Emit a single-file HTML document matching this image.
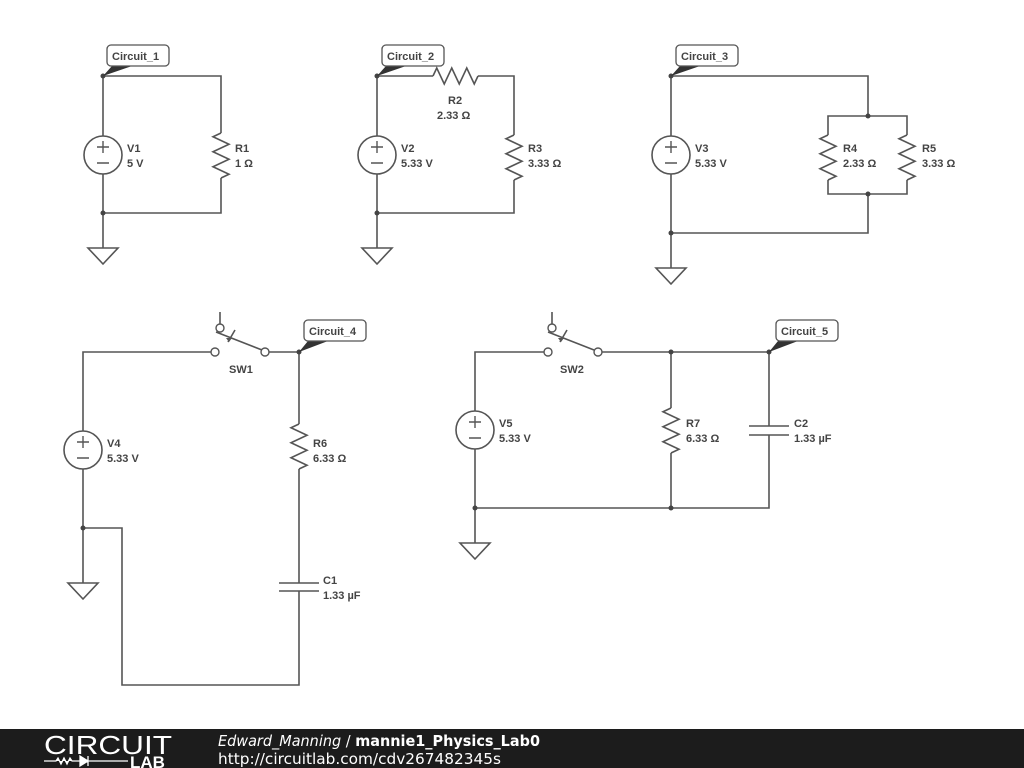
<!DOCTYPE html>
<html><head><meta charset="utf-8"><style>
html,body{margin:0;padding:0;background:#fff;}
svg{display:block;}
text{font-family:"Liberation Sans",sans-serif;font-size:11px;font-weight:bold;fill:#444;}
.w{stroke:#555;stroke-width:1.6;fill:none;}
</style></head><body>
<svg width="1024" height="768" viewBox="0 0 1024 768" xmlns="http://www.w3.org/2000/svg">
<defs>
<g id="src"><circle cx="0" cy="0" r="19" fill="#fff" stroke="#555" stroke-width="1.6"/><path d="M-6 -8 h12 M0 -14 v12 M-6 8 h12" stroke="#555" stroke-width="1.4"/></g>
<g id="gnd"><path d="M-15 0 h30 l-15 16 z" fill="#fff" stroke="#555" stroke-width="1.6"/></g>
</defs>
<g class="w">
<path d="M103 136 V76 H221 V133 M221 178 V213 H103 V174 M103 213 V248"/>
<path d="M221 133 l-8 3.75 l16 7.5 l-16 7.5 l16 7.5 l-16 7.5 l16 7.5 l-8 3.75"/>
<path d="M377 136 V76 H433 M478 76 H514 V135 M514 180 V213 H377 V174 M377 213 V248"/>
<path d="M433 76 l3.75 -8 l7.5 16 l7.5 -16 l7.5 16 l7.5 -16 l7.5 16 l3.75 -8"/>
<path d="M514 135 l-8 3.75 l16 7.5 l-16 7.5 l16 7.5 l-16 7.5 l16 7.5 l-8 3.75"/>
<path d="M671 136 V76 H868 V116 M828 135 V116 H907 V135 M828 180 V194 H907 V180 M868 194 V233 H671 V174 M671 233 V268"/>
<path d="M828 135 l-8 3.75 l16 7.5 l-16 7.5 l16 7.5 l-16 7.5 l16 7.5 l-8 3.75"/>
<path d="M907 135 l-8 3.75 l16 7.5 l-16 7.5 l16 7.5 l-16 7.5 l16 7.5 l-8 3.75"/>
<path d="M83 431 V352 H211 M269 352 H299 V424 M299 469 V583 M299 591 V685 H122 V528 H83 V469 M83 528 V583"/>
<path d="M299 424 l-8 3.75 l16 7.5 l-16 7.5 l16 7.5 l-16 7.5 l16 7.5 l-8 3.75"/>
<path d="M279 583 H319 M279 591 H319"/>
<path d="M220 312 V324 M216 332 L262 350 M235 330 L228 342"/>
<path d="M475 411 V352 H544 M602 352 H769 V426 M769 435 V508 H475 V449 M671 352 V408 M671 453 V508 M475 508 V543"/>
<path d="M671 408 l-8 3.75 l16 7.5 l-16 7.5 l16 7.5 l-16 7.5 l16 7.5 l-8 3.75"/>
<path d="M749 426 H789 M749 435 H789"/>
<path d="M552 312 V324 M548 332 L594 350 M567 330 L560 342"/>
</g>
<g fill="#fff" stroke="#555" stroke-width="1.4">
<circle cx="215" cy="352" r="4"/><circle cx="265" cy="352" r="4"/><circle cx="220" cy="328" r="4"/>
<circle cx="548" cy="352" r="4"/><circle cx="598" cy="352" r="4"/><circle cx="552" cy="328" r="4"/>
</g>
<path d="M229 342 l-3 -4 h6 z M561 342 l-3 -4 h6 z" fill="#555"/>
<g fill="#444">
<circle cx="103" cy="76" r="2.5"/><circle cx="103" cy="213" r="2.5"/>
<circle cx="377" cy="76" r="2.5"/><circle cx="377" cy="213" r="2.5"/>
<circle cx="671" cy="76" r="2.5"/><circle cx="868" cy="116" r="2.5"/><circle cx="868" cy="194" r="2.5"/><circle cx="671" cy="233" r="2.5"/>
<circle cx="299" cy="352" r="2.5"/><circle cx="83" cy="528" r="2.5"/>
<circle cx="671" cy="352" r="2.5"/><circle cx="769" cy="352" r="2.5"/><circle cx="475" cy="508" r="2.5"/><circle cx="671" cy="508" r="2.5"/>
</g>
<use href="#src" x="103" y="155"/><use href="#src" x="377" y="155"/><use href="#src" x="671" y="155"/>
<use href="#src" x="83" y="450"/><use href="#src" x="475" y="430"/>
<use href="#gnd" x="103" y="248"/><use href="#gnd" x="377" y="248"/><use href="#gnd" x="671" y="268"/>
<use href="#gnd" x="83" y="583"/><use href="#gnd" x="475" y="543"/>
<g>
<path d="M103 76 L112 66 H132 Z M377 76 L386 66 H406 Z M671 76 L680 66 H700 Z M299 352 L308 341 H328 Z M769 352 L778 341 H798 Z" fill="#333"/>
<g fill="#fff" stroke="#555" stroke-width="1.3">
<rect x="107" y="45" width="62" height="21" rx="4"/>
<rect x="382" y="45" width="62" height="21" rx="4"/>
<rect x="676" y="45" width="62" height="21" rx="4"/>
<rect x="304" y="320" width="62" height="21" rx="4"/>
<rect x="776" y="320" width="62" height="21" rx="4"/>
</g>
<text x="112" y="60">Circuit_1</text>
<text x="387" y="60">Circuit_2</text>
<text x="681" y="60">Circuit_3</text>
<text x="309" y="335">Circuit_4</text>
<text x="781" y="335">Circuit_5</text>
</g>
<text x="127" y="152">V1</text><text x="127" y="167">5 V</text>
<text x="235" y="152">R1</text><text x="235" y="167">1 Ω</text>
<text x="401" y="152">V2</text><text x="401" y="167">5.33 V</text>
<text x="448" y="104">R2</text><text x="437" y="119">2.33 Ω</text>
<text x="528" y="152">R3</text><text x="528" y="167">3.33 Ω</text>
<text x="695" y="152">V3</text><text x="695" y="167">5.33 V</text>
<text x="843" y="152">R4</text><text x="843" y="167">2.33 Ω</text>
<text x="922" y="152">R5</text><text x="922" y="167">3.33 Ω</text>
<text x="229" y="373">SW1</text>
<text x="107" y="447">V4</text><text x="107" y="462">5.33 V</text>
<text x="313" y="447">R6</text><text x="313" y="462">6.33 Ω</text>
<text x="323" y="584">C1</text><text x="323" y="599">1.33 µF</text>
<text x="560" y="373">SW2</text>
<text x="499" y="427">V5</text><text x="499" y="442">5.33 V</text>
<text x="686" y="427">R7</text><text x="686" y="442">6.33 Ω</text>
<text x="794" y="427">C2</text><text x="794" y="442">1.33 µF</text>
<rect x="0" y="729" width="1024" height="39" fill="#1c1c1c"/>
<text x="44" y="754" textLength="128" lengthAdjust="spacingAndGlyphs" style="font-size:26px;font-weight:normal;fill:#fff">CIRCUIT</text>
<path d="M44 761 h12 l2 -3 l3 6 l3 -6 l3 6 l3 -6 l2 3 h10 M80 756 v10 l8 -5 z M88 756 v10 M88 761 h40" stroke="#fff" stroke-width="1.3" fill="#fff"/>
<text x="130" y="768" style="font-size:17px;fill:#fff">LAB</text>
<text x="218" y="746" textLength="322" lengthAdjust="spacingAndGlyphs" style="font-family:'DejaVu Sans',sans-serif;font-size:15px;font-weight:normal;font-style:italic;fill:#fff">Edward_Manning <tspan style="font-style:normal">/</tspan> <tspan style="font-weight:bold;font-style:normal">mannie1_Physics_Lab0</tspan></text>
<text x="218" y="764" textLength="283" lengthAdjust="spacingAndGlyphs" style="font-family:'DejaVu Sans',sans-serif;font-size:15px;font-weight:normal;fill:#fff">http://circuitlab.com/cdv267482345s</text>
</svg>
</body></html>
